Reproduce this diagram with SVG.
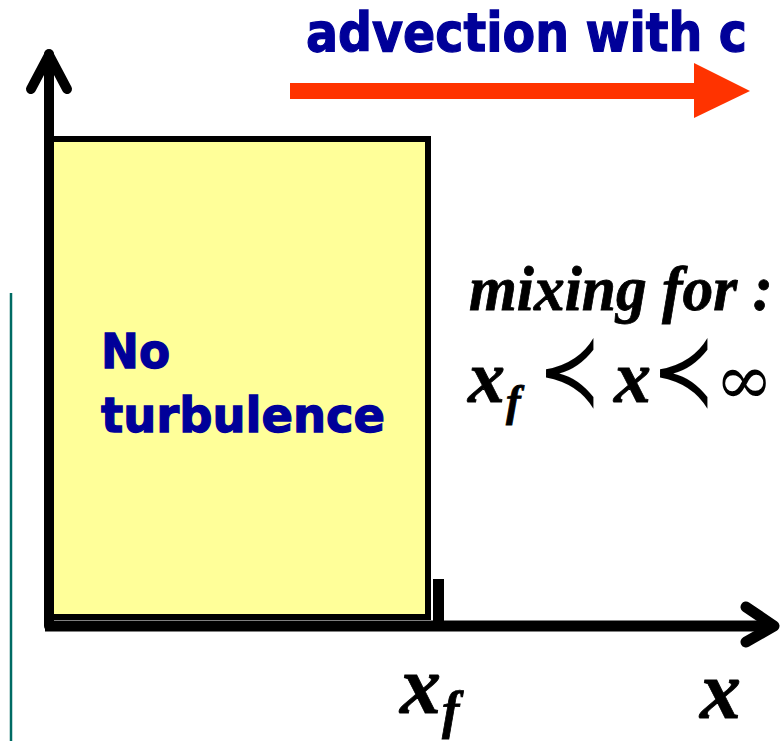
<svg xmlns="http://www.w3.org/2000/svg" width="780" height="741" viewBox="0 0 780 741">
<style>
.lbl{font-family:"DejaVu Sans","Verdana",sans-serif;font-weight:bold;fill:#000099;stroke:#000099;stroke-width:1.3}
.math{font-family:"Liberation Serif","Times New Roman",serif;font-weight:bold;font-style:italic;fill:#000;stroke:#000;stroke-width:0.8}
.sym{font-family:"DejaVu Serif","Liberation Serif",serif;font-weight:normal;font-style:normal;fill:#000}
.axis{stroke:#000;fill:none;stroke-linecap:round;stroke-linejoin:round}
</style>
<rect width="780" height="741" fill="#fff"/>
<line x1="11" y1="293" x2="11" y2="741" stroke="#006b63" stroke-width="2.5"/>
<g id="region">
<rect x="48.5" y="139" width="379.5" height="478" fill="#FFFF99" stroke="#000" stroke-width="6"/>
<text class="lbl" x="101" y="368" font-size="48" textLength="69" lengthAdjust="spacingAndGlyphs">No</text>
<text class="lbl" x="101" y="432" font-size="48" textLength="284" lengthAdjust="spacingAndGlyphs">turbulence</text>
</g>
<g id="connectors">
<path class="axis" d="M49 626 V54" stroke-width="10"/>
<path class="axis" d="M31 89 L49 55 L67 89" stroke-width="10"/>
<path d="M45 626 H772" stroke="#000" stroke-width="11" fill="none"/>
<path class="axis" d="M746 607 L774 626 L746 642" stroke-width="11"/>
<rect x="433" y="579" width="11" height="47" fill="#000"/>
<path d="M290 91 H696" stroke="#FF3300" stroke-width="16"/>
<path d="M694 63 L750 91 L694 118 Z" fill="#FF3300"/>
</g>
<g id="advection">
<text class="lbl" x="306" y="51" font-size="54" textLength="441" lengthAdjust="spacingAndGlyphs">advection with c</text>
</g>
<g id="mixing">
<text class="math" x="469" y="310" font-size="64" textLength="304" lengthAdjust="spacingAndGlyphs">mixing for :</text>
<text class="math" x="468" y="402" font-size="74">x</text>
<text class="math" x="506" y="416" font-size="44">f</text>
<text class="sym" transform="translate(538 405) scale(0.84 1.12)" x="0" y="0" font-size="90">≺</text>
<text class="math" x="614" y="402" font-size="74">x</text>
<text class="sym" transform="translate(652 405) scale(0.84 1.12)" x="0" y="0" font-size="90">≺</text>
<text class="sym" x="715" y="404" font-size="70">∞</text>
</g>
<g id="labels">
<text class="math" x="400" y="713" font-size="82">x</text>
<text class="math" x="442" y="728" font-size="52">f</text>
<text class="math" x="700" y="718" font-size="82">x</text>
</g>
</svg>
